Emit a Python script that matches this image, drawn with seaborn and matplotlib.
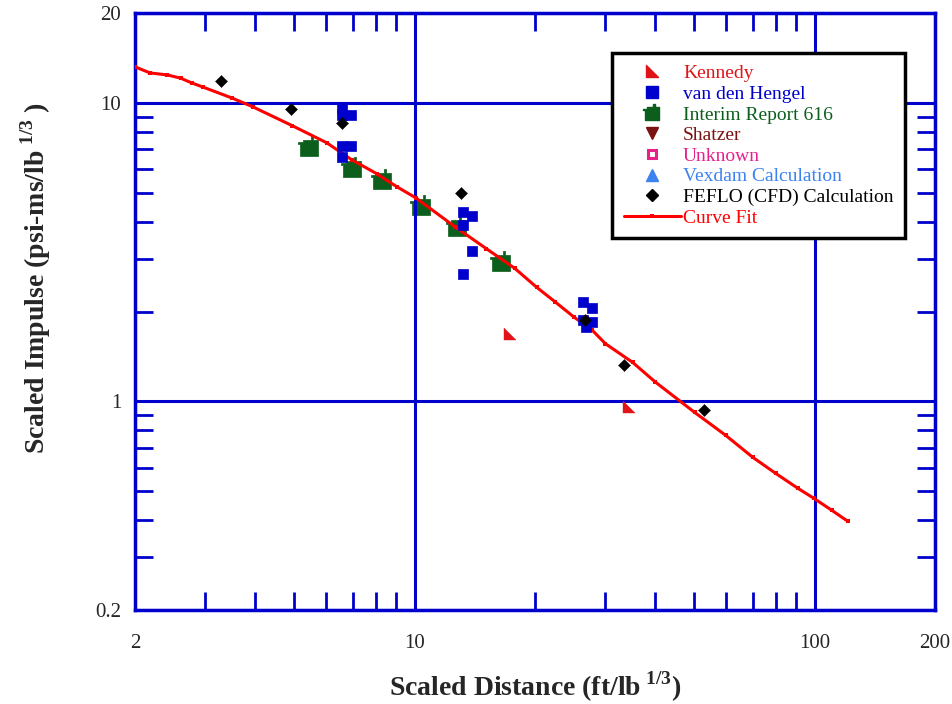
import matplotlib
matplotlib.use("Agg")
import matplotlib.pyplot as plt
import seaborn as sns
from matplotlib.path import Path
from matplotlib.markers import MarkerStyle
from matplotlib.ticker import FixedLocator, FixedFormatter, NullFormatter
from matplotlib.lines import Line2D

# ---------------- data ----------------
kennedy_x = [17.3, 34.3]
kennedy_y = [1.675, 0.955]

hengel_x = [6.57, 6.60, 6.92, 6.57, 6.92, 6.60,
            13.18, 13.88, 13.18, 13.88, 13.18,
            26.3, 27.7, 26.3, 27.7, 26.8]
hengel_y = [9.62, 9.12, 9.12, 7.18, 7.18, 6.60,
            4.32, 4.19, 3.91, 3.18, 2.68,
            2.16, 2.06, 1.88, 1.85, 1.77]

interim_x = [5.46, 6.96, 8.27, 10.35, 12.74, 16.4]
interim_y = [7.13, 6.06, 5.53, 4.52, 3.85, 2.92]

feflo_x = [3.29, 4.92, 6.57, 13.1, 26.6, 33.3, 52.8]
feflo_y = [11.85, 9.55, 8.57, 5.0, 1.87, 1.32, 0.933]

curve_x = [2.0, 2.18, 2.41, 2.6, 2.77, 2.95, 3.49, 3.94, 4.95, 6.03, 6.96,
           8.04, 9.02, 10.06, 12.6, 15.1, 17.8, 20.2, 22.4, 25.1, 27.7, 30.0,
           35.1, 40.0, 50.1, 59.9, 70.0, 79.9, 90.7, 99.4, 110.3, 120.9]
curve_y = [13.2, 12.6, 12.4, 12.1, 11.67, 11.31, 10.39, 9.70, 8.38, 7.35, 6.45,
           5.79, 5.24, 4.81, 3.85, 3.25, 2.79, 2.41, 2.16, 1.91, 1.74, 1.56,
           1.35, 1.16, 0.919, 0.770, 0.650, 0.574, 0.512, 0.474, 0.432, 0.397]

x_major = [2, 10, 100, 200]
x_major_labels = ["2", "10", "100", "200"]
x_minor = [3, 4, 5, 6, 7, 8, 9, 20, 30, 40, 50, 60, 70, 80, 90]
y_major = [0.2, 1, 10, 20]
y_major_labels = ["0.2", "1", "10", "20"]
y_minor = [0.3, 0.4, 0.5, 0.6, 0.7, 0.8, 0.9, 2, 3, 4, 5, 6, 7, 8, 9]

labels = ["Kennedy", "van den Hengel", "Interim Report 616", "Shatzer",
          "Unknown", "Vexdam Calculation", "FEFLO (CFD) Calculation", "Curve Fit"]
colors = ["#e01418", "#0000cc", "#0b5e1c", "#7a1212",
          "#e8208c", "#3c82f0", "#000000", "#ff0000"]

# ---------------- style ----------------
sns.set_style("white")
plt.rcParams["font.family"] = ["Liberation Serif", "DejaVu Serif"]
plt.rcParams["mathtext.fontset"] = "custom"
plt.rcParams["mathtext.rm"] = "Liberation Serif"
plt.rcParams["mathtext.bf"] = "Liberation Serif:bold"

BLUE = "#0000cc"

fig = plt.figure(figsize=(9.52, 7.04), dpi=100)
ax = fig.add_axes([135 / 952, 1 - 610 / 704, 800 / 952, 597 / 704])
ax.set_xscale("log")
ax.set_yscale("log")
ax.set_xlim(2, 200)
ax.set_ylim(0.2, 20)

# markers
tri = MarkerStyle(Path([(-1, 1), (-1, -1), (1, -1), (-1, 1)], closed=True))
green_path = Path([(-1, -1), (1, -1), (1, 0.85), (0.45, 0.85), (0.45, 1.25),
                   (0.2, 1.25), (0.2, 0.85), (-0.75, 0.85), (-0.75, 0.6),
                   (-1.3, 0.6), (-1.3, 0.4), (-1, 0.4), (-1, -1)], closed=True)
green_m = MarkerStyle(green_path)

sns.scatterplot(x=interim_x, y=interim_y, marker=green_m, s=260, color=colors[2],
                edgecolor=colors[2], linewidth=0.5, ax=ax, zorder=2)
sns.lineplot(x=curve_x, y=curve_y, color=colors[7], linewidth=2.2, marker="s",
             markersize=3.5, markeredgewidth=0, ax=ax, zorder=3)
sns.scatterplot(x=hengel_x, y=hengel_y, marker="s", s=55, color=colors[1],
                edgecolor=colors[1], linewidth=0.5, ax=ax, zorder=4)
sns.scatterplot(x=kennedy_x, y=kennedy_y, marker=tri, s=70, color=colors[0],
                edgecolor=colors[0], linewidth=0.3, ax=ax, zorder=4)
sns.scatterplot(x=feflo_x, y=feflo_y, marker="D", s=38, color=colors[6],
                edgecolor=colors[6], linewidth=0.3, ax=ax, zorder=5)

# axes styling
for sp in ax.spines.values():
    sp.set_color(BLUE)
    sp.set_linewidth(2.5)
ax.xaxis.set_major_locator(FixedLocator(x_major))
ax.xaxis.set_major_formatter(FixedFormatter(x_major_labels))
ax.xaxis.set_minor_locator(FixedLocator(x_minor))
ax.xaxis.set_minor_formatter(NullFormatter())
ax.yaxis.set_major_locator(FixedLocator(y_major))
ax.yaxis.set_major_formatter(FixedFormatter(y_major_labels))
ax.yaxis.set_minor_locator(FixedLocator(y_minor))
ax.yaxis.set_minor_formatter(NullFormatter())
ax.tick_params(which="minor", direction="in", length=13, width=2, color=BLUE,
               top=True, right=True, bottom=True, left=True)
ax.tick_params(which="major", direction="in", length=0, width=2, color=BLUE,
               top=True, right=True, labelsize=15)
ax.tick_params(axis="x", which="major", pad=17)
ax.tick_params(axis="y", which="major", pad=10)
ax.grid(which="major", color=BLUE, linewidth=2.2)
ax.set_axisbelow(False)
for gl in ax.get_xgridlines() + ax.get_ygridlines():
    gl.set_zorder(1.5)

ax.set_xlabel(r"Scaled Distance (ft/lb$^{\;\mathbf{1/3}}$)", fontsize=20,
              fontweight="bold", labelpad=12)
ax.set_ylabel(r"Scaled Impulse (psi-ms/lb$^{\;\mathbf{1/3}}$ )", fontsize=20,
              fontweight="bold")
ax.yaxis.set_label_coords(-0.102, 0.556)

# legend
handles = [
    Line2D([], [], linestyle="none", marker=tri, markersize=8, color=colors[0]),
    Line2D([], [], linestyle="none", marker="s", markersize=8, color=colors[1]),
    Line2D([], [], linestyle="none", marker=green_m, markersize=13, color=colors[2]),
    Line2D([], [], linestyle="none", marker="v", markersize=8, color=colors[3]),
    Line2D([], [], linestyle="none", marker="s", markersize=6, markerfacecolor="white",
           markeredgecolor=colors[4], markeredgewidth=2.2),
    Line2D([], [], linestyle="none", marker="^", markersize=8, color=colors[5]),
    Line2D([], [], linestyle="none", marker="D", markersize=6, color=colors[6]),
    Line2D([], [], color=colors[7], linewidth=2.2, marker="s", markersize=3,
           markeredgewidth=0),
]
leg = ax.legend(handles, labels, loc="upper left",
                bbox_to_anchor=(612 / 952, 1 - 53 / 704),
                bbox_transform=fig.transFigure, borderaxespad=0,
                fontsize=14, frameon=True, fancybox=False, framealpha=1,
                edgecolor="black", handlelength=2.95, handletextpad=0.1,
                labelspacing=0.155, borderpad=0.6, numpoints=1)
leg.get_frame().set_linewidth(2.5)
for t, c in zip(leg.get_texts(), colors):
    t.set_color(c)
leg.set_zorder(10)

fig.savefig("out.png", dpi=100)
